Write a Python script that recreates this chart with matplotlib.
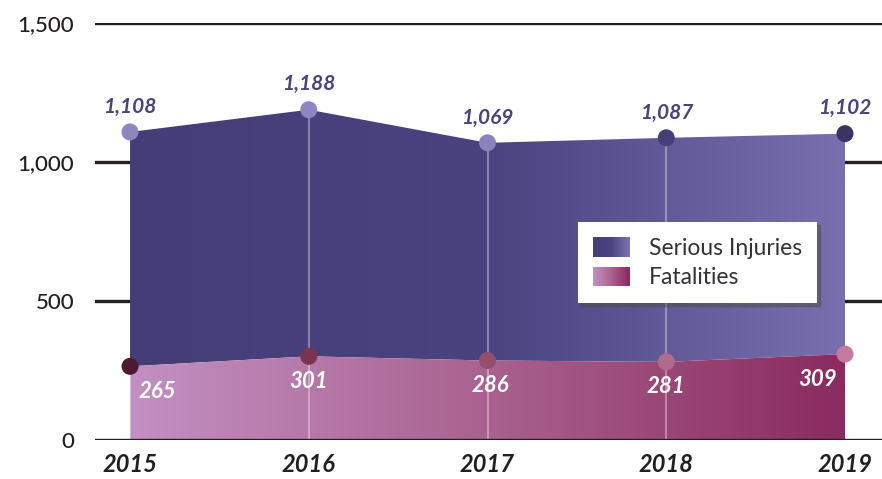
import numpy as np
import matplotlib
matplotlib.use("Agg")
import matplotlib.pyplot as plt
from matplotlib.colors import LinearSegmentedColormap
from matplotlib.legend_handler import HandlerBase
from matplotlib.patches import Rectangle

years = [2015, 2016, 2017, 2018, 2019]
injuries = [1108, 1188, 1069, 1087, 1102]
fatalities = [265, 301, 286, 281, 309]
inj_labels = ["1,108", "1,188", "1,069", "1,087", "1,102"]
fat_labels = ["265", "301", "286", "281", "309"]
yticks = [0, 500, 1000, 1500]
ytick_labels = ["0", "500", "1,000", "1,500"]

inj_cmap = LinearSegmentedColormap.from_list("inj", ["#443d77", "#4a4380", "#7a70b0"])
fat_cmap = LinearSegmentedColormap.from_list("fat", ["#c290c2", "#a9628f", "#8b2b60"])
inj_marker_colors = ["#8d86c0", "#8d86c0", "#8a83bd", "#463f7a", "#3a3462"]
fat_marker_colors = ["#4b1b34", "#7a3350", "#934d6d", "#b06a8b", "#c47a9f"]
dark = "#231f20"

plt.rcParams["font.family"] = ["Lato", "DejaVu Sans"]

fig = plt.figure(figsize=(8.82, 4.79), dpi=100)
ax = fig.add_axes([0.1077, 0.0814, 0.8923, 0.8706])

x0, x1 = years[0], years[-1]
grad = np.linspace(0, 1, 256).reshape(1, -1)

# upper band (serious injuries) between the two lines
poly_inj = ax.fill_between(years, fatalities, injuries, facecolor="none", edgecolor="none")
im1 = ax.imshow(grad, cmap=inj_cmap, aspect="auto", extent=[x0, x1, 0, 1500],
                origin="lower", zorder=2)
im1.set_clip_path(poly_inj.get_paths()[0], transform=ax.transData)

# lower band (fatalities)
poly_fat = ax.fill_between(years, 0, fatalities, facecolor="none", edgecolor="none")
im2 = ax.imshow(grad, cmap=fat_cmap, aspect="auto", extent=[x0, x1, 0, 1500],
                origin="lower", zorder=2)
im2.set_clip_path(poly_fat.get_paths()[0], transform=ax.transData)

# light vertical guides
ax.vlines(years[1:4], 0, injuries[1:4], color="white", alpha=0.35, lw=1.5, zorder=3)
ax.vlines(years[0], 0, fatalities[0], color="white", alpha=0.35, lw=1.5, zorder=3)

# gridlines
for v in yticks:
    ax.axhline(v, color=dark, lw=2.4, zorder=1 if v > 0 else 4)

ax.scatter(years, injuries, s=150, c=inj_marker_colors, zorder=5, linewidths=0)
ax.scatter(years, fatalities, s=150, c=fat_marker_colors, zorder=5, linewidths=0)

for x, y, t in zip(years, injuries, inj_labels):
    ax.annotate(t, (x, y), xytext=(0, 11), textcoords="offset points", ha="center",
                va="bottom", fontsize=15, fontweight="bold", fontstyle="italic",
                color="#4a4380", zorder=6)

fat_dx = [20, 0, 2, 0, -20]
for x, y, t, dx in zip(years, fatalities, fat_labels, fat_dx):
    ax.annotate(t, (x, y), xytext=(dx, -18), textcoords="offset points", ha="center",
                va="center", fontsize=16, fontweight="bold", fontstyle="italic",
                color="white", zorder=6)

ax.set_xlim(2014.804, 2019.207)
ax.set_ylim(0, 1500)
ax.set_yticks(yticks)
ax.set_yticklabels(ytick_labels, fontsize=16, fontweight="medium", color=dark)
ax.set_xticks(years)
ax.set_xticklabels([str(y) for y in years], fontsize=17, fontweight="bold",
                   fontstyle="italic", color=dark)
ax.tick_params(axis="y", length=0, pad=15)
ax.tick_params(axis="x", length=0, pad=9)
for s in ax.spines.values():
    s.set_visible(False)


class GradientHandler(HandlerBase):
    def __init__(self, cmap):
        super().__init__()
        self.cmap = cmap

    def create_artists(self, legend, orig_handle, xdescent, ydescent, width, height,
                       fontsize, trans):
        n = 24
        arts = []
        for i in range(n):
            r = Rectangle((-xdescent + i * width / n, -ydescent), width / n + 0.3,
                          height, facecolor=self.cmap(i / (n - 1)), edgecolor="none",
                          transform=trans)
            arts.append(r)
        return arts


h1 = Rectangle((0, 0), 1, 1)
h2 = Rectangle((0, 0), 1, 1)
leg = ax.legend([h1, h2], ["Serious Injuries", "Fatalities"],
                handler_map={h1: GradientHandler(inj_cmap), h2: GradientHandler(fat_cmap)},
                loc="upper left", bbox_to_anchor=(0.6137, 0.5228), borderaxespad=0,
                fontsize=16.5, frameon=True, fancybox=False, shadow=True, borderpad=0.65,
                handlelength=1.6, handleheight=0.95, handletextpad=0.85,
                labelspacing=0.35)
leg.get_frame().set_edgecolor("none")
leg.set_zorder(7)
for t in leg.get_texts():
    t.set_color("#333333")

fig.savefig("out.png", dpi=100)
